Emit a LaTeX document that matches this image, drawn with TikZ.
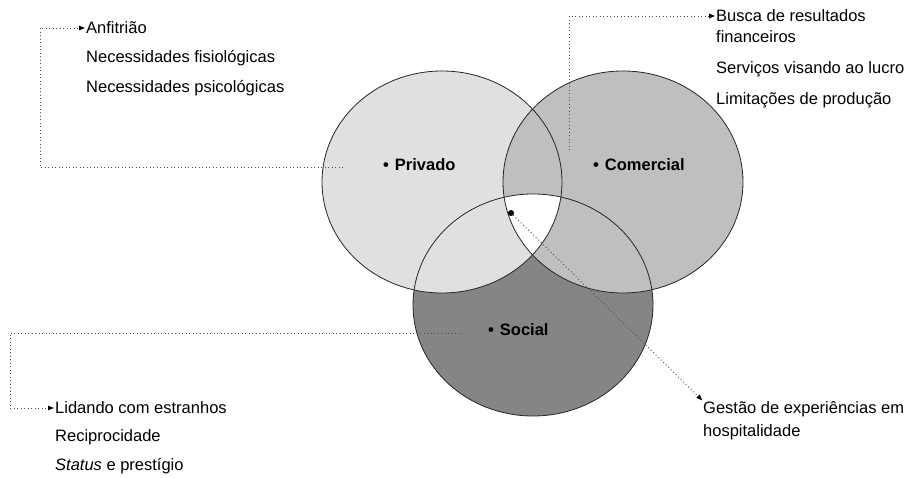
\documentclass[tikz,border=0pt]{standalone}
\usepackage{fontspec}
\setmainfont{Liberation Sans}
\usetikzlibrary{shapes.geometric, arrows.meta, positioning}

\begin{document}
\begin{tikzpicture}[
        x=1pt, y=-1pt, % picture measured in pixels, y downwards
        % styles
        setbox/.style={ellipse, minimum width=240pt, minimum height=222pt, draw=black!85, line width=0.8pt, inner sep=0pt},
        setlabel/.style={font=\bfseries\fontsize{16.5}{18}\selectfont, inner sep=0pt, anchor=west},
        note/.style={font=\fontsize{16.5}{19}\selectfont, inner sep=0pt, anchor=west},
        conn/.style={draw=black!70, line width=0.9pt, dash pattern=on 0.9pt off 2.6pt, shorten >=1pt, -{Triangle[length=6pt, width=4.5pt, black]}} ]

    \useasboundingbox (0,0) rectangle (913,478);

    % --- SET FILLS (social under privado under comercial) ---
    \fill[black!48] (533,305) ellipse [x radius=120pt, y radius=111pt];
    \fill[black!12] (442,182) ellipse [x radius=120pt, y radius=111pt];
    \fill[black!25] (623,182) ellipse [x radius=120pt, y radius=111pt];
    % centre of the three sets stays white
    \begin{scope}
        \clip (442,182) ellipse [x radius=120pt, y radius=111pt];
        \clip (623,182) ellipse [x radius=120pt, y radius=111pt];
        \fill[white] (533,305) ellipse [x radius=120pt, y radius=111pt];
    \end{scope}

    % --- SET OUTLINES ---
    \node (privado)   [setbox] at (442,182) {};
    \node (comercial) [setbox] at (623,182) {};
    \node (social)    [setbox] at (533,305) {};

    \node (privlbl) [setlabel] at (383,165) {\textbullet\hspace{6pt}Privado};
    \node (comlbl)  [setlabel] at (593,165) {\textbullet\hspace{6pt}Comercial};
    \node (soclbl)  [setlabel] at (488,330) {\textbullet\hspace{6pt}Social};

    % --- NOTES ---
    \node (anfitriao) [note] at (86,28) {Anfitrião};
    \node (fisio)     [note] at (86,58) {Necessidades fisiológicas};
    \node (psico)     [note] at (86,88) {Necessidades psicológicas};

    \node (busca)   [note] at (716,16) {Busca de resultados};
    \node (financ)  [note] at (716,37) {financeiros};
    \node (lucro)   [note] at (716,69) {Serviços visando ao lucro};
    \node (limites) [note] at (716,100) {Limitações de produção};

    \node (lidando) [note] at (55,408) {Lidando com estranhos};
    \node (recip)   [note] at (55,437) {Reciprocidade};
    \node (status)  [note] at (55,466) {\textit{Status} e prestígio};

    \node (gestao) [note] at (703,409) {Gestão de experiências em};
    \node (hosp)   [note] at (703,432) {hospitalidade};

    % --- CONNECTIONS ---
    \coordinate (privtail) at (343,167);
    \coordinate (comtail)  at (569,150);
    \coordinate (soctail)  at (463,333);
    \node (nucleo) [circle, fill=black, inner sep=0pt, minimum size=6pt] at (511,213) {};

    \draw [conn] (privtail) -- ++(-303,0) |- (anfitriao.west);
    \draw [conn] (comtail) |- (busca.west);
    \draw [conn] (soctail) -- ++(-453,0) |- (lidando.west);
    \draw [conn] (nucleo) -- (gestao.north west);

\end{tikzpicture}
\end{document}
